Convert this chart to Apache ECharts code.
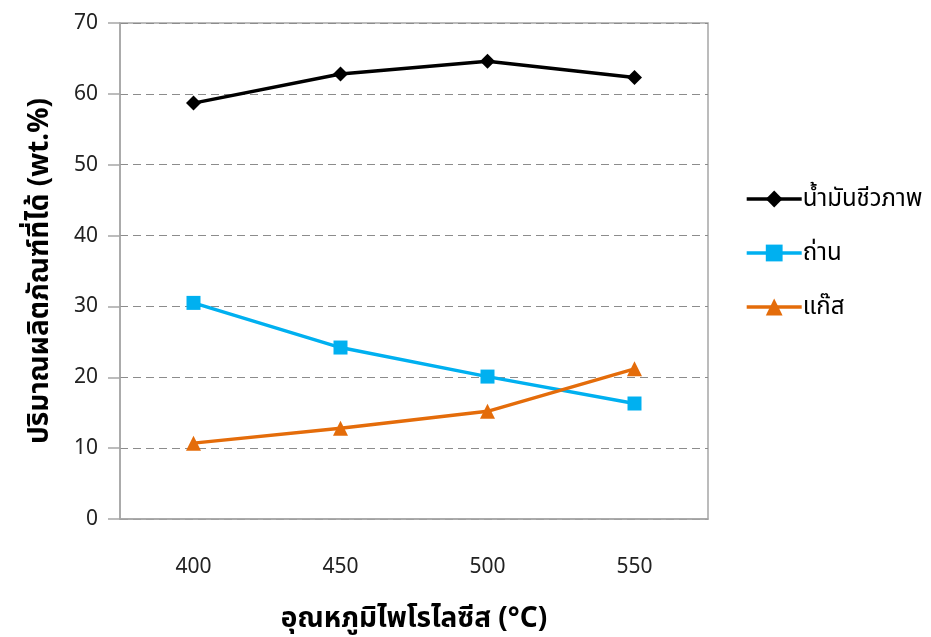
<!DOCTYPE html>
<html><head><meta charset="utf-8">
<script src="https://cdn.jsdelivr.net/npm/echarts@6/dist/echarts.min.js"></script>
<style>html,body{margin:0;padding:0;background:#fff}#c{width:931px;height:637px}</style>
</head><body><div id="c"></div>
<script>
const categories = ['400', '450', '500', '550'];
const bioOil = [58.7, 62.8, 64.6, 62.3];
const charcoal = [30.5, 24.2, 20.1, 16.3];
const gas = [10.7, 12.8, 15.2, 21.2];
const seriesNames = ['น้ำมันชีวภาพ', 'ถ่าน', 'แก๊ส'];
const yTicks = { min: 0, max: 70, interval: 10 };
const xTitle = 'อุณหภูมิไพโรไลซีส (°C)';
const yTitle = 'ปริมาณผลิตภัณฑ์ที่ได้ (wt.%)';

const FONT = '"Noto Sans", "Noto Sans Thai", "DejaVu Sans", sans-serif';
const chart = echarts.init(document.getElementById('c'), null, { renderer: 'canvas' });
const mk = (name, data, color, symbol, size) => ({
  name, type: 'line', data, symbol, symbolSize: size,
  lineStyle: { color, width: 3.4 }, itemStyle: { color },
  emphasis: { disabled: true }
});
chart.setOption({
  animation: false,
  textStyle: { fontFamily: FONT },
  grid: { left: 120, right: 223, top: 23, bottom: 118, outerBoundsMode: 'none', containLabel: false,
    show: true, borderColor: '#a6a6a6', borderWidth: 1.5 },
  legend: {
    orient: 'vertical', left: 745, top: 185, itemGap: 26, padding: 0,
    itemWidth: 55, itemHeight: 21,
    lineStyle: { width: 3.4 },
    textStyle: { fontSize: 24, lineHeight: 28, color: '#000', fontFamily: FONT, padding: [0, 0, 0, -4] },
    data: seriesNames
  },
  xAxis: {
    type: 'category', data: categories, boundaryGap: true,
    axisLine: { lineStyle: { color: '#a6a6a6', width: 1.5 } },
    axisTick: { show: false },
    axisLabel: { fontSize: 21, color: '#222', margin: 38 },
    name: xTitle, nameLocation: 'middle', nameGap: 86,
    nameTextStyle: { fontSize: 28, fontWeight: 'bold', color: '#000' }
  },
  yAxis: {
    type: 'value', min: yTicks.min, max: yTicks.max, interval: yTicks.interval,
    axisLine: { show: true, lineStyle: { color: '#a6a6a6', width: 1.5 } },
    axisTick: { show: true, length: 12, lineStyle: { color: '#a6a6a6', width: 1.5 } },
    axisLabel: { fontSize: 21, color: '#222', margin: 22 },
    splitLine: { lineStyle: { color: '#8c8c8c', type: [8, 5], width: 1 } },
    name: yTitle, nameLocation: 'middle', nameGap: 66, nameRotate: 90,
    nameTextStyle: { fontSize: 28, fontWeight: 'bold', color: '#000' }
  },
  series: [
    mk(seriesNames[0], bioOil, '#000000', 'diamond', 15),
    mk(seriesNames[1], charcoal, '#00b0f0', 'rect', 14),
    mk(seriesNames[2], gas, '#e46c0a', 'triangle', 15)
  ]
});
</script></body></html>
